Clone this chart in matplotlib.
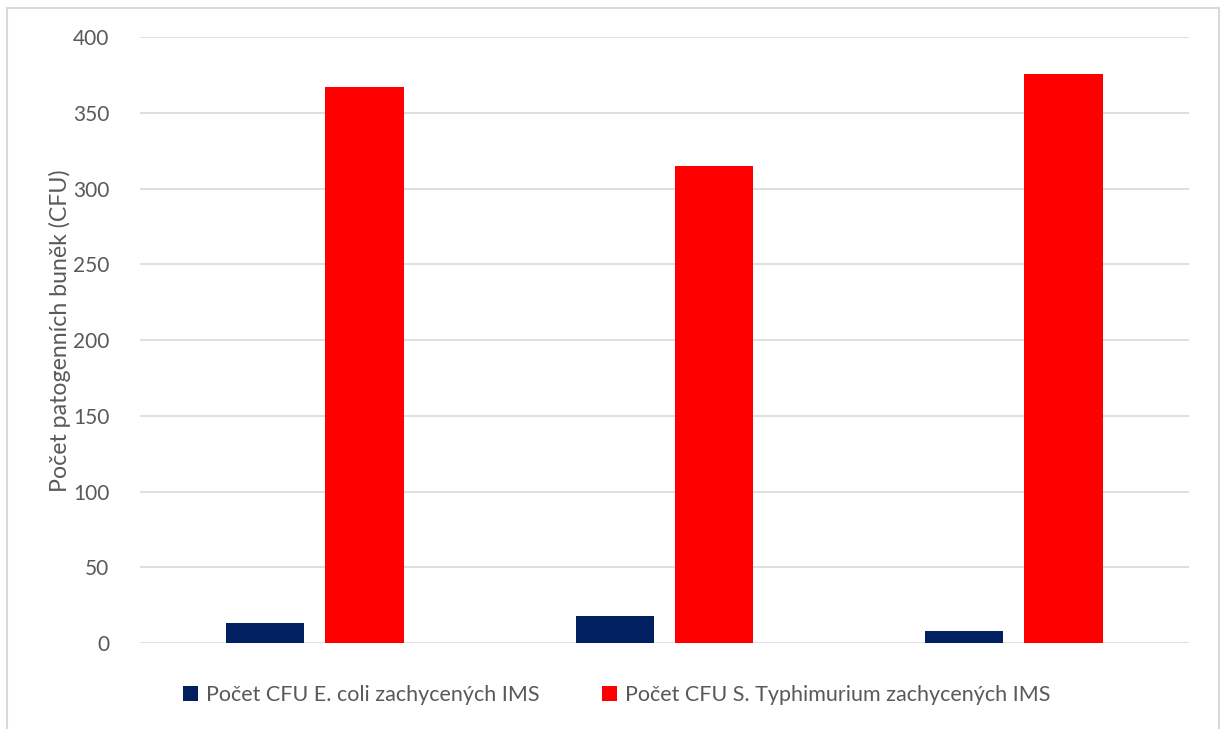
import numpy as np
import matplotlib
matplotlib.use("Agg")
import matplotlib.pyplot as plt
from matplotlib.patches import Rectangle

# data
groups = ["1", "2", "3"]
ecoli = [13, 18, 8]
salmonella = [367, 315, 376]
series_names = ["Počet CFU E. coli zachycených IMS",
                "Počet CFU S. Typhimurium zachycených IMS"]
yticks = [0, 50, 100, 150, 200, 250, 300, 350, 400]

plt.rcParams['font.family'] = ['Lato', 'DejaVu Sans']
grey = "#595959"

fig = plt.figure(figsize=(12.28, 7.29), dpi=100)
ax = fig.add_axes([0.114, 0.118, 0.854, 0.831])

x = np.arange(len(groups))
w = 0.224
off = 0.142
b1 = ax.bar(x - off, ecoli, w, color="#002060", label=series_names[0], zorder=3)
b2 = ax.bar(x + off, salmonella, w, color="#FF0000", label=series_names[1], zorder=3)

ax.set_xlim(-0.5, 2.5)
ax.set_ylim(0, 400)
ax.set_yticks(yticks)
ax.set_xticks([])
ax.grid(axis="y", color="#d9d9d9", linewidth=1.2, zorder=0)
for s in ax.spines.values():
    s.set_visible(False)
ax.tick_params(axis="y", length=0, pad=22, labelsize=15, labelcolor=grey)
ax.set_ylabel("Počet patogenních buněk (CFU)", fontsize=16.7, color=grey)
ax.yaxis.set_label_coords(-0.066, 0.515)

leg = fig.legend(handles=[b1, b2], loc="center", bbox_to_anchor=(0.502, 0.047),
                 ncol=2, frameon=False, fontsize=15.5, handlelength=0.72,
                 handleheight=0.72, handletextpad=0.35, columnspacing=2.9)
for t in leg.get_texts():
    t.set_color(grey)

# chart area border
fig.patches.append(Rectangle((7 / 1228, -0.01), 1212 / 1228, 1 - 8 / 729 + 0.01,
                             transform=fig.transFigure, fill=False,
                             edgecolor="#d9d9d9", linewidth=1.5))

fig.savefig("out.png", dpi=100)
